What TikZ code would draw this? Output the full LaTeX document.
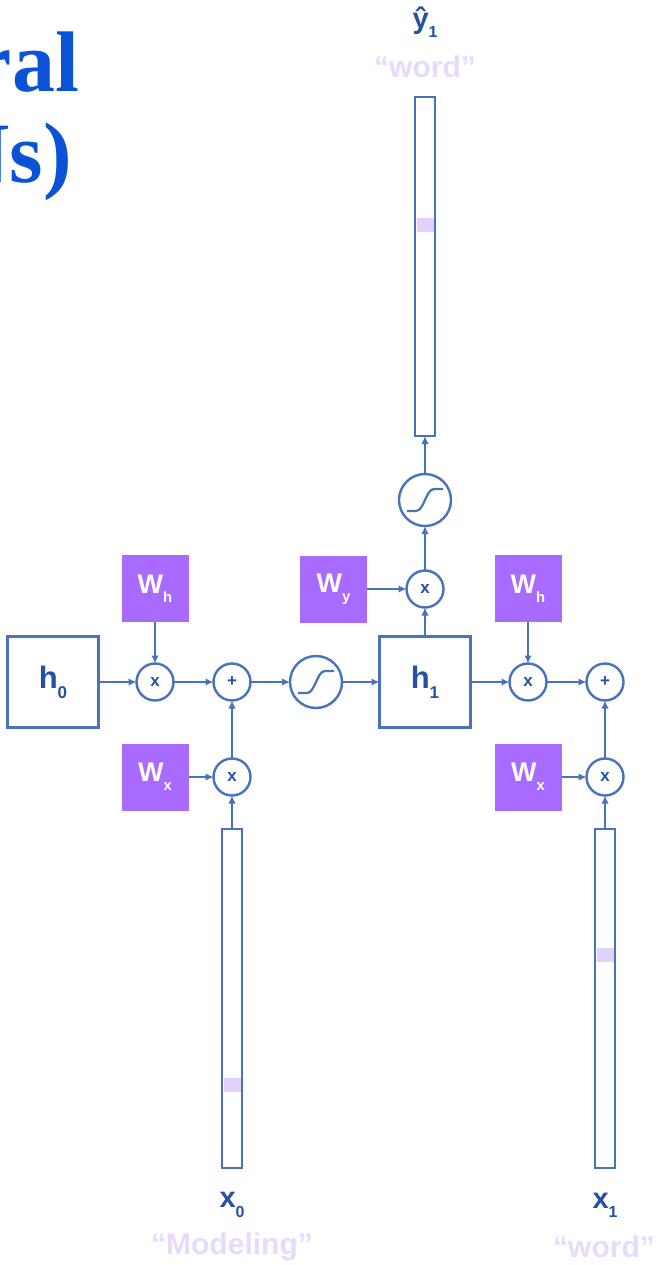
\documentclass[tikz,border=0pt]{standalone}
\usepackage{fontspec}
\setmainfont{Liberation Sans}
\newfontfamily\titlefont{Liberation Serif}
\usetikzlibrary{arrows.meta}
\definecolor{linec}{RGB}{70,114,190}
\definecolor{labc}{RGB}{36,80,166}
\definecolor{purp}{RGB}{168,106,255}
\definecolor{lav}{RGB}{232,218,255}
\definecolor{markc}{RGB}{226,208,255}
\definecolor{titlec}{RGB}{12,82,214}
\newcommand{\mysub}[1]{\raisebox{-0.32em}{\scalebox{0.55}{#1}}}
\begin{document}
\begin{tikzpicture}[x=1pt,y=-1pt,
  every node/.style={inner sep=0pt,outer sep=0pt},
  line/.style={draw=linec,line width=2.4pt},
  hbox/.style={line,rectangle,minimum width=91pt,minimum height=91pt,
    font=\fontsize{31}{36}\selectfont\bfseries,text=labc},
  wbox/.style={fill=purp,rectangle,minimum width=67pt,minimum height=67pt,
    font=\fontsize{27}{32}\selectfont\bfseries,text=white},
  op/.style={line,circle,minimum size=37pt,
    font=\fontsize{17}{20}\selectfont\bfseries,text=labc},
  sigc/.style={line,circle,minimum size=52pt},
  bar/.style={line,rectangle,minimum width=20pt,minimum height=339pt},
  conn/.style={draw=linec,line width=2.2pt,-{Latex[length=8pt,width=7.5pt]}},
  sglyph/.style={draw=linec,line width=2.2pt},
  vlab/.style={font=\fontsize{29}{34}\selectfont\bfseries,text=labc},
  wlab/.style={font=\fontsize{30}{36}\selectfont\bfseries,text=lav},
  ttl/.style={font=\fontsize{86}{90}\selectfont\titlefont\bfseries,text=titlec,anchor=base east}
]
\useasboundingbox (0,0) rectangle (659,1265);
\clip (0,0) rectangle (659,1265);

% title fragments
\node[ttl] (t1) at (79,92) {ral};
\node[ttl] (t2) at (72,183) {Ns)};

% main row
\node[hbox] (h0) at (53,682) {h\mysub{0}};
\node[op] (m0) at (155,682) {x};
\node[op] (a0) at (232,682) {+};
\node[sigc] (s0) at (316,682) {};
\node[hbox] (h1) at (425,682) {h\mysub{1}};
\node[op] (m1) at (528,682) {x};
\node[op] (a1) at (605,682) {+};

% weights
\node[wbox] (wh0) at (155,588.5) {W\mysub{h}};
\node[wbox] (wx0) at (155,777) {W\mysub{x}};
\node[wbox] (wy) at (333.5,589) {W\mysub{y}};
\node[wbox] (wh1) at (528,588.5) {W\mysub{h}};
\node[wbox] (wx1) at (528,777) {W\mysub{x}};

% input multiplies
\node[op] (mx0) at (232,777) {x};
\node[op] (mx1) at (605,777) {x};

% output path
\node[op] (my) at (425,589) {x};
\node[sigc] (sy) at (425,500) {};

% bars
\node[bar] (yb) at (425,266.5) {};
\node[bar] (xb0) at (232,998.5) {};
\node[bar] (xb1) at (605,998.5) {};
\fill[markc] (416.5,218) rectangle (433.5,232);
\fill[markc] (223.5,1078) rectangle (240.5,1092);
\fill[markc] (596.5,948) rectangle (613.5,962);

% sigmoid glyphs
\begin{scope}[shift={(s0.center)}]
  \draw[sglyph] (-18,11) -- (-9,11) .. controls (-1,11) and (1,-11) .. (9,-11) -- (18,-11);
\end{scope}
\begin{scope}[shift={(sy.center)}]
  \draw[sglyph] (-18,11) -- (-9,11) .. controls (-1,11) and (1,-11) .. (9,-11) -- (18,-11);
\end{scope}

% labels
\node[vlab] (ly) at (425,22) {ŷ\mysub{1}};
\node[wlab] (lyw) at (425,67) {“word”};
\node[vlab] (lx0) at (232,1205) {x\mysub{0}};
\node[wlab] (lx0w) at (232,1247) {“Modeling”};
\node[vlab] (lx1) at (605,1205) {x\mysub{1}};
\node[wlab] (lx1w) at (604,1247) {“word”};

% connectors
\draw[conn] (h0.east) -- (m0.west);
\draw[conn] (wh0.south) -- (m0.north);
\draw[conn] (m0.east) -- (a0.west);
\draw[conn] (wx0.east) -- (mx0.west);
\draw[conn] (mx0.north) -- (a0.south);
\draw[conn] (xb0.north) -- (mx0.south);
\draw[conn] (a0.east) -- (s0.west);
\draw[conn] (s0.east) -- (h1.west);
\draw[conn] (h1.north) -- (my.south);
\draw[conn] (wy.east) -- (my.west);
\draw[conn] (my.north) -- (sy.south);
\draw[conn] (sy.north) -- (yb.south);
\draw[conn] (h1.east) -- (m1.west);
\draw[conn] (wh1.south) -- (m1.north);
\draw[conn] (m1.east) -- (a1.west);
\draw[conn] (wx1.east) -- (mx1.west);
\draw[conn] (mx1.north) -- (a1.south);
\draw[conn] (xb1.north) -- (mx1.south);
\end{tikzpicture}
\end{document}
